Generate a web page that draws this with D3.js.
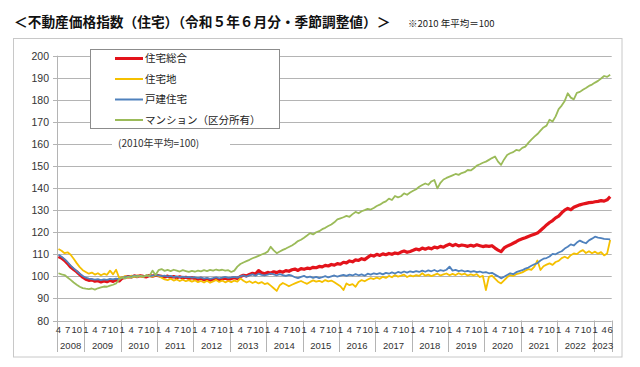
<!DOCTYPE html>
<html>
<head>
<meta charset="utf-8">
<script src="https://cdn.jsdelivr.net/npm/d3@7"></script>
<style>
  body { margin: 0; background: #fff; }
  svg { display: block; }
</style>
</head>
<body>
<div id="chart"></div>
<script>
const years = [2008, 2009, 2010, 2011, 2012, 2013, 2014, 2015, 2016, 2017, 2018, 2019, 2020, 2021, 2022, 2023];
const firstMonth = 4; // Apr 2008
const lastMonth = 6;  // Jun 2023
const tickMonths = [1, 4, 7, 10];
const yTicks = [80, 90, 100, 110, 120, 130, 140, 150, 160, 170, 180, 190, 200];

const seriesNames = ["住宅総合", "住宅地", "戸建住宅", "マンション（区分所有）"];

// 住宅総合
const sogo = [
  109.0, 108.3, 107.2, 105.8, 104.2, 103.1, 102.1, 100.8, 99.6,
  98.7, 98.2, 98.4, 97.8, 98.0, 97.5, 97.9, 97.6, 98.2, 97.7, 98.4, 97.9,
  99.2, 99.6, 99.9, 99.7, 100.2, 99.9, 100.3, 100.0, 99.8, 100.4, 100.1, 100.5,
  100.3, 100.0, 99.7, 100.1, 99.6, 99.9, 99.4, 99.8, 99.3, 99.6, 99.1, 99.4,
  99.0, 98.7, 99.1, 98.5, 98.8, 98.3, 98.7, 99.0, 98.4, 98.8, 99.2, 98.7,
  99.0, 99.4, 99.1, 99.9, 100.5, 100.2, 100.9, 101.4, 101.0, 102.6, 101.6, 101.2,
  101.8, 101.4, 102.1, 101.7, 102.3, 101.9, 102.6, 102.3, 103.0, 103.3, 102.7, 103.5,
  103.2, 103.7, 103.5, 104.1, 103.9, 104.5, 104.3, 105.0, 104.7, 105.4, 105.1, 105.8,
  105.5, 106.4, 106.1, 107.0, 106.6, 107.5, 107.2, 108.0, 107.6, 108.6, 109.6, 109.2,
  110.0, 109.5, 110.2, 109.8, 110.4, 110.0, 110.6, 110.3, 111.0, 111.5, 110.9, 111.3,
  111.8, 112.4, 112.0, 112.8, 112.3, 112.9, 112.5, 113.3, 112.9, 113.6, 113.2, 114.0,
  114.6, 113.9, 114.5, 113.8, 114.2, 114.0, 113.6, 114.1, 113.7, 114.3, 113.9, 113.5,
  113.8, 113.6, 113.9, 112.8, 111.9, 111.2, 112.9, 113.7, 114.3, 115.0, 115.7, 116.5,
  117.0, 117.5, 118.1, 118.6, 119.1, 119.6, 120.8, 122.0, 123.3, 124.4, 125.3, 126.5,
  127.3, 128.8, 130.0, 130.8, 130.2, 131.3, 131.9, 132.4, 132.8, 133.1, 133.4, 133.5,
  133.8, 134.0, 134.3, 134.1, 134.7, 136.1
];

// 住宅地
const takuchi = [
  112.4, 111.6, 110.5, 110.9, 109.8, 108.0, 106.0, 104.2, 102.8,
  102.0, 101.2, 101.7, 100.8, 101.4, 100.5, 101.2, 100.7, 102.6, 100.9, 103.0, 99.3,
  99.6, 100.1, 99.5, 100.3, 99.8, 100.4, 100.0, 99.7, 100.5, 100.1, 99.9, 100.6,
  100.2, 99.4, 98.6, 98.3, 98.9, 98.1, 98.6, 97.9, 98.5, 97.8, 98.3, 97.6,
  98.2, 97.4, 97.9, 97.2, 98.0, 97.1, 97.7, 98.4, 97.5, 98.1, 97.3, 97.9,
  97.4, 98.1, 97.6, 99.1, 98.0, 97.2, 97.8, 97.0, 97.6, 96.8, 97.4, 96.5,
  96.9, 95.8, 94.6, 93.4, 96.0, 97.0, 96.3, 95.5, 96.2, 96.8, 97.4, 97.9,
  97.2, 96.6, 97.5, 98.2, 97.6, 98.0, 97.4, 98.3, 97.7, 98.1, 97.3, 96.4,
  95.5, 93.8, 96.8, 96.0, 96.5, 95.3, 97.4, 98.3, 97.8, 98.6, 99.2, 98.8,
  99.4, 98.9, 99.8, 99.3, 100.2, 99.6, 100.6, 99.9, 100.3, 100.8, 99.7, 100.4,
  100.0, 100.6, 100.2, 101.4, 100.3, 100.8, 100.1, 100.7, 101.2, 100.4, 100.9, 101.3,
  100.5, 101.1, 100.6, 101.4, 100.8, 101.2, 100.4, 100.9, 100.5, 101.0, 99.7, 100.2,
  93.8, 99.8, 100.3, 99.0, 97.6, 96.8, 98.2, 99.6, 100.6, 100.2, 101.0, 101.4,
  101.8, 102.6, 103.3, 103.0, 104.4, 107.2, 102.9, 104.6, 105.3, 105.9, 105.2, 106.5,
  107.0, 108.3, 108.9, 108.2, 109.6, 110.4, 110.1, 111.2, 111.9, 110.6, 111.4, 110.5,
  111.2, 110.3, 111.0, 109.5, 110.4, 116.5
];

// 戸建住宅
const kodate = [
  109.8, 108.9, 107.8, 106.4, 104.9, 103.6, 102.4, 101.2, 100.2,
  99.4, 99.0, 98.8, 98.5, 98.7, 98.3, 98.6, 98.4, 98.9, 98.6, 99.0, 98.7,
  99.4, 99.7, 100.0, 99.8, 100.3, 100.0, 100.2, 99.9, 100.4, 100.1, 100.3, 100.6,
  100.4, 100.1, 100.3, 99.9, 100.2, 99.7, 100.0, 99.6, 99.9, 99.5, 99.8, 99.4,
  99.6, 99.2, 99.5, 99.0, 99.3, 98.9, 99.2, 99.6, 99.1, 99.4, 99.8, 99.3,
  99.5, 99.8, 99.4, 100.0, 100.4, 99.9, 100.5, 100.9, 100.3, 101.2, 100.7, 100.4,
  100.8, 101.3, 100.9, 100.5, 101.0, 100.6, 100.2, 100.7, 100.3, 99.6, 99.2, 99.8,
  100.2, 99.5, 99.9, 99.3, 99.8, 99.2, 99.6, 100.1, 99.5, 100.0, 100.4, 99.9,
  100.3, 100.7, 100.2, 100.8, 100.4, 101.0, 100.5, 100.9, 100.3, 101.2, 100.8, 101.4,
  101.0, 101.5, 100.9, 101.6, 101.2, 101.8, 101.3, 102.0, 101.6, 102.2, 101.7, 102.3,
  101.9, 102.4, 102.0, 102.6, 102.1, 102.7, 102.3, 102.9, 102.2, 102.8, 102.5, 103.0,
  104.4, 102.6, 102.9, 102.4, 102.7, 102.2, 102.5, 102.0, 102.4, 101.9, 102.2, 101.7,
  101.9, 101.4, 101.6, 100.8, 100.0, 99.1, 99.8, 100.6, 101.4, 101.0, 101.9, 102.4,
  102.8, 103.5, 104.0, 104.8, 105.5, 106.0, 107.2, 108.0, 108.3, 109.0, 110.2, 110.0,
  110.8, 111.4, 112.6, 113.4, 114.5, 114.0, 115.3, 116.2, 115.5, 115.0, 116.3, 117.1,
  118.0, 117.6, 117.3, 117.0, 116.9, 116.8
];

// マンション（区分所有）
const mansion = [
  101.4, 100.9, 100.6, 99.5, 98.4, 97.2, 96.2, 95.3, 94.7,
  94.4, 94.2, 94.5, 94.0, 94.6, 95.0, 95.4, 95.3, 95.8, 96.2, 96.8, 98.6,
  99.5, 99.0, 99.8, 99.4, 100.1, 99.7, 100.3, 99.9, 100.5, 100.2, 102.6, 100.6,
  102.8, 103.3, 102.5, 102.9, 102.4, 103.0, 102.6, 102.2, 102.8, 102.4, 102.0, 102.5,
  102.1, 102.6, 102.3, 102.8, 102.4, 102.9, 102.6, 103.1, 102.7, 103.0, 102.6, 102.8,
  102.0, 102.6, 104.4, 105.6, 106.3, 106.9, 107.5, 108.2, 108.7, 109.3, 109.9, 110.4,
  111.2, 113.4, 111.8, 110.5, 111.3, 112.0, 112.6, 113.3, 114.0, 114.9, 116.0, 116.6,
  117.5, 118.5, 119.6, 119.0, 120.0, 120.5, 121.4, 122.0, 122.8, 123.5, 124.5, 125.8,
  126.3, 126.8, 127.4, 127.0, 128.2, 129.2, 128.6, 129.5, 130.0, 130.6, 130.3, 131.0,
  131.9, 132.5, 133.4, 134.0, 135.2, 134.6, 136.4, 135.8, 136.3, 137.6, 137.0, 138.0,
  138.8, 139.5, 140.6, 141.4, 142.1, 141.5, 143.0, 143.7, 139.9, 142.4, 143.9, 144.6,
  145.2, 145.8, 146.4, 146.0, 146.8, 147.2, 148.2, 148.0, 149.0, 150.2, 150.8, 151.5,
  152.0, 152.8, 153.6, 154.3, 152.0, 150.5, 153.0, 155.0, 155.8, 156.3, 157.3, 157.0,
  158.2, 158.8, 160.5, 162.0, 163.3, 164.5, 166.0, 167.5, 168.3, 171.0, 170.2, 172.5,
  175.8, 177.4, 179.5, 183.0, 181.0, 180.2, 183.2, 183.6, 184.6, 185.4, 186.3, 186.9,
  187.8, 188.6, 189.7, 190.8, 190.4, 191.4
];

const seriesValues = [sogo, takuchi, kodate, mansion];
const seriesColors = ["#e3131b", "#f5c000", "#4f81bd", "#9bbb59"];
const seriesWidths = [3.2, 1.8, 1.8, 1.8];

const width = 640;
const height = 367;
const jpFont = "'Noto Sans CJK JP', sans-serif";
const numFont = "'Liberation Sans', Arial, sans-serif";

// months from Apr 2008 to Jun 2023
const months = [];
years.forEach((y, yi) => {
  for (let m = 1; m <= 12; m++) {
    if (yi === 0 && m < firstMonth) continue;
    if (yi === years.length - 1 && m > lastMonth) continue;
    months.push({ y, m, i: months.length });
  }
});

const plot = { left: 57, right: 611.7, top: 55.7, bottom: 320.5 };

const x = d3.scaleBand()
  .domain(months.map((d) => d.i))
  .range([plot.left, plot.right])
  .padding(0);

const y = d3.scaleLinear()
  .domain([80, 200])
  .range([plot.bottom, plot.top]);

const cx = (i) => x(i) + x.bandwidth() / 2;

const svg = d3.select("#chart")
  .append("svg")
  .attr("width", width)
  .attr("height", height)
  .attr("viewBox", [0, 0, width, height]);

// Title
svg.append("text")
  .attr("x", 14)
  .attr("y", 27)
  .attr("font-family", jpFont)
  .attr("font-weight", "bold")
  .attr("font-size", 13.7)
  .attr("fill", "#111")
  .text("＜不動産価格指数（住宅）（令和５年６月分・季節調整値）＞");

svg.append("text")
  .attr("x", 408)
  .attr("y", 27)
  .attr("font-family", jpFont)
  .attr("font-size", 9.5)
  .attr("fill", "#222")
  .text("※2010 年平均＝100");

// Outer frame
svg.append("rect")
  .attr("x", 13.5)
  .attr("y", 38.5)
  .attr("width", 608.5)
  .attr("height", 318.5)
  .attr("fill", "none")
  .attr("stroke", "#c8c8c8");

// Gridlines + y labels
const grid = svg.append("g");
grid.selectAll("line")
  .data(yTicks)
  .join("line")
  .attr("x1", plot.left - 4)
  .attr("x2", plot.right)
  .attr("y1", (d) => Math.round(y(d)) + 0.5)
  .attr("y2", (d) => Math.round(y(d)) + 0.5)
  .attr("stroke", "#b4b4b4")
  .attr("stroke-width", 1);

grid.selectAll("text")
  .data(yTicks)
  .join("text")
  .attr("x", 49)
  .attr("y", (d) => Math.round(y(d)) + 4)
  .attr("text-anchor", "end")
  .attr("font-family", numFont)
  .attr("font-size", 10.5)
  .attr("fill", "#333")
  .text((d) => d);

// y axis line
svg.append("line")
  .attr("x1", plot.left + 0.5)
  .attr("x2", plot.left + 0.5)
  .attr("y1", plot.top)
  .attr("y2", 352)
  .attr("stroke", "#b4b4b4");

// x axis: year separators, month labels, year labels
const yearGroups = d3.groups(months, (d) => d.y);
const sepX = [plot.left];
yearGroups.forEach(([yr, ms]) => sepX.push(x(ms[ms.length - 1].i) + x.bandwidth()));

svg.append("g")
  .selectAll("line")
  .data(sepX)
  .join("line")
  .attr("x1", (d) => Math.round(d) + 0.5)
  .attr("x2", (d) => Math.round(d) + 0.5)
  .attr("y1", plot.bottom)
  .attr("y2", 352)
  .attr("stroke", "#b4b4b4");

svg.append("g")
  .selectAll("text")
  .data(months.filter((d) => tickMonths.includes(d.m) || d.i === months.length - 1))
  .join("text")
  .attr("x", (d) => cx(d.i))
  .attr("y", 333)
  .attr("text-anchor", "middle")
  .attr("font-family", numFont)
  .attr("font-size", 9.5)
  .attr("fill", "#333")
  .text((d) => d.m);

svg.append("g")
  .selectAll("text")
  .data(yearGroups)
  .join("text")
  .attr("x", ([yr, ms]) => (x(ms[0].i) + x(ms[ms.length - 1].i) + x.bandwidth()) / 2)
  .attr("y", 348.5)
  .attr("text-anchor", "middle")
  .attr("font-family", numFont)
  .attr("font-size", 9.5)
  .attr("fill", "#333")
  .text(([yr]) => yr);

// Series lines
const line = d3.line()
  .x((d, i) => cx(i))
  .y((d) => y(d));

svg.append("g")
  .selectAll("path")
  .data(seriesValues)
  .join("path")
  .attr("d", (d) => line(d))
  .attr("fill", "none")
  .attr("stroke", (d, i) => seriesColors[i])
  .attr("stroke-width", (d, i) => seriesWidths[i])
  .attr("stroke-linejoin", "round");

// Note "(2010年平均=100)"
svg.append("rect")
  .attr("x", 112)
  .attr("y", 136)
  .attr("width", 118)
  .attr("height", 15)
  .attr("fill", "#fff");

svg.append("text")
  .attr("x", 118)
  .attr("y", 147)
  .attr("font-family", jpFont)
  .attr("font-size", 10)
  .attr("fill", "#333")
  .text("(2010年平均=100)");

// Legend
const legend = svg.append("g");
legend.append("rect")
  .attr("x", 90.5)
  .attr("y", 49.5)
  .attr("width", 189)
  .attr("height", 79)
  .attr("fill", "#fff")
  .attr("stroke", "#8c8c8c");

const legendY = [58.5, 79, 99.5, 120];
const items = legend.selectAll("g")
  .data(seriesNames)
  .join("g")
  .attr("transform", (d, i) => `translate(0,${legendY[i]})`);

items.append("line")
  .attr("x1", 115)
  .attr("x2", 143)
  .attr("stroke", (d, i) => seriesColors[i])
  .attr("stroke-width", (d, i) => (i === 0 ? 3 : 2));

items.append("text")
  .attr("x", 145)
  .attr("y", 3.8)
  .attr("font-family", jpFont)
  .attr("font-size", 10.5)
  .attr("fill", "#222")
  .text((d) => d);
</script>
</body>
</html>
